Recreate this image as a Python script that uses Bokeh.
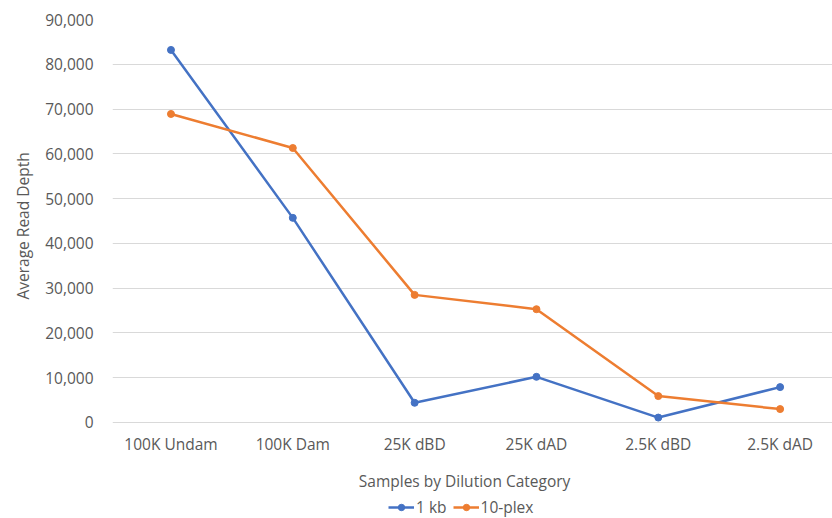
from bokeh.plotting import figure
from bokeh.models import Range1d, FixedTicker, NumeralTickFormatter, Legend, LegendItem, Title
from bokeh.core.properties import value
from bokeh.embed import file_html
from bokeh.resources import INLINE

categories = ["100K Undam", "100K Dam", "25K dBD", "25K dAD", "2.5K dBD", "2.5K dAD"]
kb1 = [83200, 45700, 4400, 10200, 1100, 7900]
plex10 = [68900, 61300, 28500, 25300, 5900, 3000]
y_ticks = [0, 10000, 20000, 30000, 40000, 50000, 60000, 70000, 80000, 90000]
x_title = "Samples by Dilution Category"
y_title = "Average Read Depth"

FONT = "Open Sans"
FS = "15.5px"
GREY = "#595959"
BLUE = "#4472C4"
ORANGE = "#ED7D31"

xs = list(range(len(categories)))

# frame extends below the zero line so the category labels, axis title and legend
# can be drawn inside it (0 sits at ~422 px, 90,000 at ~19 px)
p = figure(width=832, height=518, output_backend="svg", toolbar_location=None,
           x_axis_location=None,
           x_range=Range1d(-0.48, 5.43), y_range=Range1d(-21440, 90000),
           min_border_left=110, min_border_right=0, min_border_top=19, min_border_bottom=0)
p.outline_line_color = None
p.background_fill_color = "white"
p.border_fill_color = "white"

l1 = p.line(xs, kb1, line_color=BLUE, line_width=2.5)
c1 = p.scatter(xs, kb1, size=7, fill_color=BLUE, line_color=BLUE)
l2 = p.line(xs, plex10, line_color=ORANGE, line_width=2.5)
c2 = p.scatter(xs, plex10, size=7, fill_color=ORANGE, line_color=ORANGE)

# category tick labels just below the zero line
p.text(x=xs, y=[0] * len(xs), text=categories, y_offset=22,
       text_align="center", text_baseline="middle",
       text_font=value(FONT), text_font_size=value(FS), text_color=GREY)
# x-axis title
p.text(x=[2.41], y=[0], text=[x_title], y_offset=59,
       text_align="center", text_baseline="middle",
       text_font=value(FONT), text_font_size=value(FS), text_color=GREY)

ax = p.yaxis[0]
ax.ticker = FixedTicker(ticks=y_ticks)
ax.formatter = NumeralTickFormatter(format="0,0")
ax.axis_line_color = None
ax.major_tick_line_color = None
ax.minor_tick_line_color = None
ax.major_tick_out = 0
ax.major_tick_in = 0
ax.minor_tick_out = 0
ax.major_label_text_font = FONT
ax.major_label_text_font_size = FS
ax.major_label_text_color = GREY
ax.major_label_standoff = 19

p.add_layout(Title(text=y_title, align="left", offset=219, standoff=18,
                   text_font=FONT, text_font_size=FS, text_font_style="normal",
                   text_color=GREY), "left")

p.xgrid.grid_line_color = None
p.ygrid.ticker = FixedTicker(ticks=y_ticks)
p.ygrid.grid_line_color = "#D9D9D9"
p.ygrid.grid_line_width = 1

legend = Legend(items=[LegendItem(label="1 kb", renderers=[l1, c1]),
                       LegendItem(label="10-plex", renderers=[l2, c2])],
                orientation="horizontal", location=(276, 0),
                label_text_font=FONT, label_text_font_size=FS, label_text_color=GREY,
                glyph_width=26, glyph_height=16, label_height=16, label_standoff=2,
                spacing=6, padding=0, margin=0,
                border_line_color=None, background_fill_alpha=0)
p.add_layout(legend, "center")

open("out.html", "w").write(file_html(p, INLINE))
